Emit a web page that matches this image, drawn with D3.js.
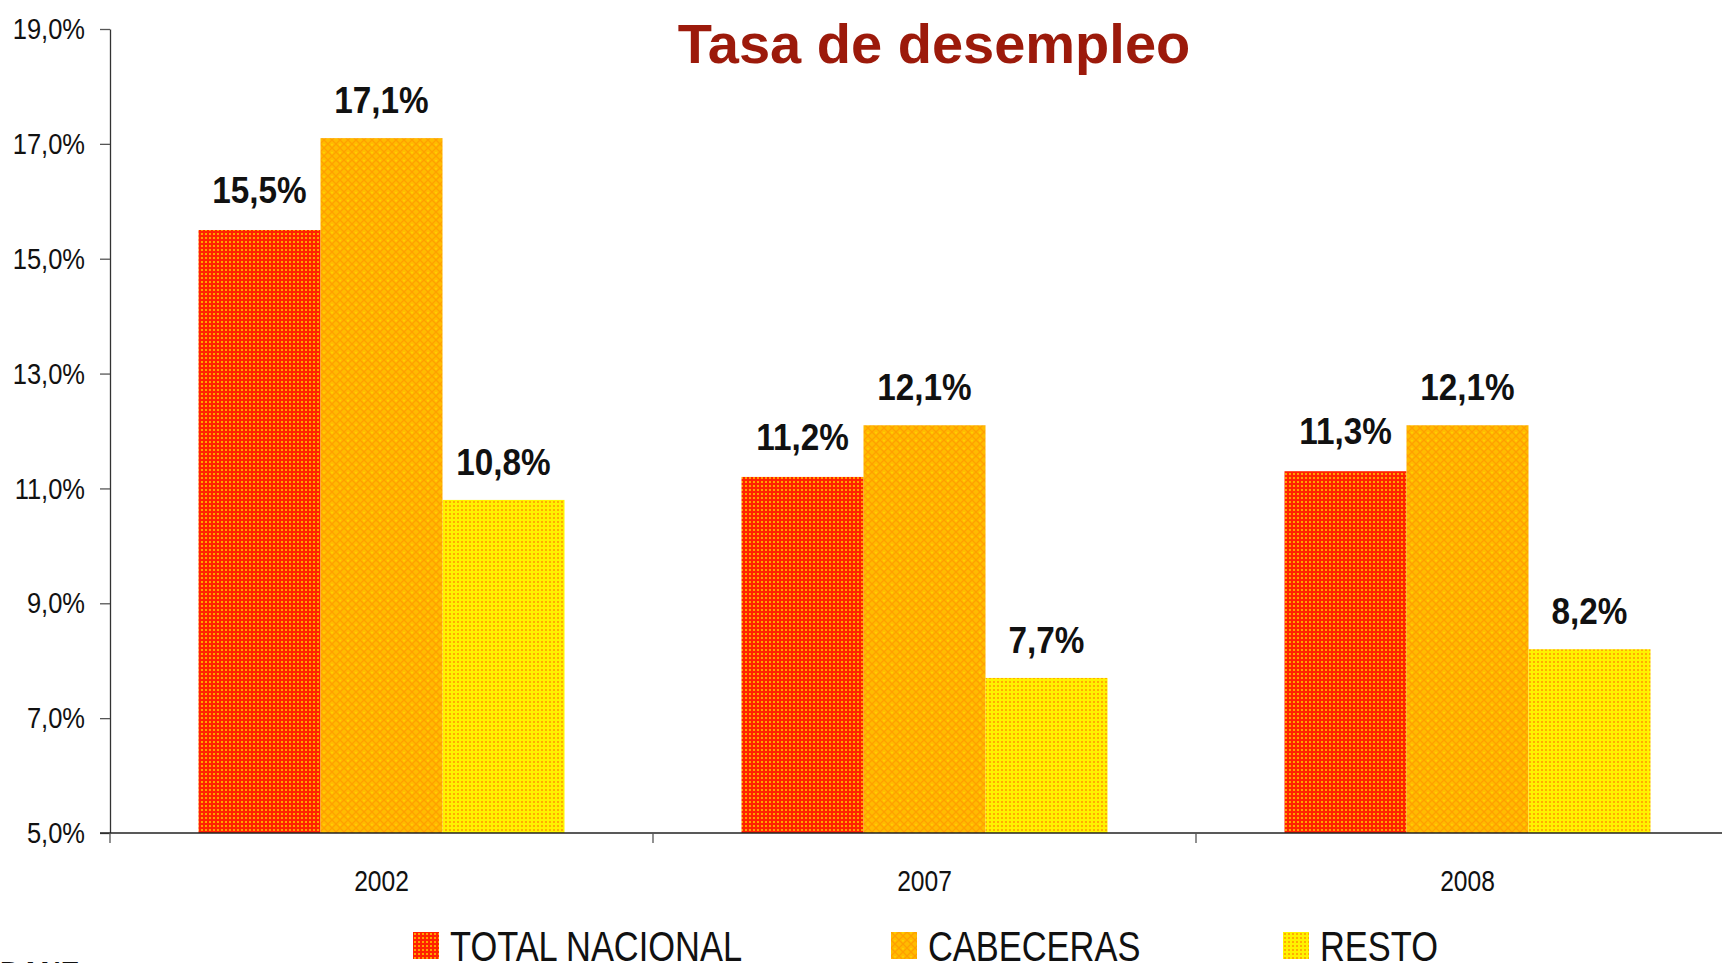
<!DOCTYPE html>
<html>
<head>
<meta charset="utf-8">
<script src="https://cdn.jsdelivr.net/npm/d3@7"></script>
<style>
  body { margin: 0; background: #fff; overflow: hidden; }
  svg { display: block; }
  .narrow { font-family: "Liberation Sans", Arial, sans-serif; }
</style>
</head>
<body>
<svg width="1722" height="963"></svg>
<script>
/* data */
var years = ["2002", "2007", "2008"];
var series = ["TOTAL NACIONAL", "CABECERAS", "RESTO"];
var totalNacional = [15.5, 11.2, 11.3];
var cabeceras = [17.1, 12.1, 12.1];
var resto = [10.8, 7.7, 8.2];
var yTicks = [5, 7, 9, 11, 13, 15, 17, 19];

var values = [totalNacional, cabeceras, resto];

/* no narrow font installed: squeeze Liberation Sans horizontally instead */
var squeeze = 0.82,
    squeezeTick = 0.85,
    squeezeLabel = 0.9;

var svg = d3.select("svg"),
    margin = {top: 29, left: 110},
    plotBottom = 833;

/* y scale: 5% at the x axis, 19% at the top */
var y = d3.scaleLinear().domain([5, 19]).range([plotBottom, margin.top]);

/* the last band runs past the right edge of the window, as in the picture */
var x0 = d3.scaleBand().domain(years).range([margin.left, margin.left + 3 * 543]).padding(0);
var groupPad = x0.bandwidth() * 0.163;
var x1 = d3.scaleBand().domain(series).range([groupPad, x0.bandwidth() - groupPad]).padding(0);

function pct(d) { return d.toFixed(1).replace(".", ",") + "%"; }

/* fill patterns for the three series */
var defs = svg.append("defs");

var pRed = defs.append("pattern").attr("id", "pRed")
    .attr("patternUnits", "userSpaceOnUse").attr("width", 4).attr("height", 4);
pRed.append("rect").attr("width", 4).attr("height", 4).attr("fill", "#ff2200");
pRed.append("rect").attr("x", 1).attr("y", 1).attr("width", 2).attr("height", 2).attr("fill", "#ffa200");

var pOrange = defs.append("pattern").attr("id", "pOrange")
    .attr("patternUnits", "userSpaceOnUse").attr("width", 8).attr("height", 8);
pOrange.append("rect").attr("width", 8).attr("height", 8).attr("fill", "#ffbb00");
pOrange.append("path").attr("d", "M0,0L8,8M8,0L0,8").attr("stroke", "#ffa000").attr("stroke-width", 1.3);
pOrange.append("rect").attr("x", 3).attr("y", 0).attr("width", 2).attr("height", 1.5).attr("fill", "#ffd000");

var pYellow = defs.append("pattern").attr("id", "pYellow")
    .attr("patternUnits", "userSpaceOnUse").attr("width", 4).attr("height", 4);
pYellow.append("rect").attr("width", 4).attr("height", 4).attr("fill", "#fff200");
pYellow.append("rect").attr("x", 1).attr("y", 1).attr("width", 2).attr("height", 2).attr("fill", "#ffae00");

var fills = ["url(#pRed)", "url(#pOrange)", "url(#pYellow)"];

/* bars and value labels */
var rows = [];
years.forEach(function(yr, i) {
  series.forEach(function(s, j) {
    rows.push({year: yr, serie: s, j: j, value: values[j][i]});
  });
});

var bars = svg.append("g");
bars.selectAll("rect")
  .data(rows)
  .enter().append("rect")
    .attr("x", function(d) { return x0(d.year) + x1(d.serie); })
    .attr("y", function(d) { return y(d.value); })
    .attr("width", x1.bandwidth())
    .attr("height", function(d) { return plotBottom - y(d.value); })
    .attr("fill", function(d) { return fills[d.j]; });

bars.selectAll("text")
  .data(rows)
  .enter().append("text")
    .attr("class", "narrow")
    .attr("transform", function(d) {
      var cx = x0(d.year) + x1(d.serie) + x1.bandwidth() / 2;
      var gap = d.j === 0 ? 27 : 25;
      return "translate(" + cx + "," + (y(d.value) - gap) + ") scale(" + squeezeLabel + ",1)";
    })
    .attr("text-anchor", "middle")
    .attr("font-size", 37)
    .attr("font-weight", "bold")
    .attr("fill", "#111")
    .text(function(d) { return pct(d.value); });

/* y axis */
var yAxis = svg.append("g")
    .attr("transform", "translate(" + margin.left + ",0)")
    .call(d3.axisLeft(y).tickValues(yTicks).tickSize(10).tickSizeOuter(0).tickFormat(pct));
yAxis.select(".domain").attr("stroke", "#333").attr("stroke-width", 1.3);
yAxis.selectAll(".tick line").attr("stroke", "#555").attr("stroke-width", 1.3);
yAxis.selectAll(".tick text")
    .attr("class", "narrow")
    .attr("font-size", 30)
    .attr("fill", "#111")
    .attr("x", -25 / squeezeTick)
    .attr("transform", "scale(" + squeezeTick + ",1)");

/* x axis: labels at band centers, ticks at band boundaries */
var xAxis = svg.append("g")
    .attr("transform", "translate(0," + plotBottom + ")")
    .call(d3.axisBottom(x0).tickSize(0).tickPadding(37));
xAxis.select(".domain").attr("stroke", "#222").attr("stroke-width", 1.5)
    .attr("d", "M" + (margin.left - 10) + ",0H" + x0.range()[1]);
xAxis.selectAll(".tick text")
    .attr("class", "narrow")
    .attr("font-size", 30)
    .attr("fill", "#111")
    .attr("transform", "scale(" + squeeze + ",1)");

xAxis.selectAll(".bound")
  .data(years)
  .enter().append("line")
    .attr("class", "bound")
    .attr("x1", function(d) { return x0(d) + x0.bandwidth(); })
    .attr("x2", function(d) { return x0(d) + x0.bandwidth(); })
    .attr("y1", 0).attr("y2", 10)
    .attr("stroke", "#555").attr("stroke-width", 1.3);
xAxis.append("line")
    .attr("x1", margin.left).attr("x2", margin.left)
    .attr("y1", 0).attr("y2", 10)
    .attr("stroke", "#555").attr("stroke-width", 1.3);

/* title */
svg.append("text")
    .attr("x", 934)
    .attr("y", 63)
    .attr("text-anchor", "middle")
    .attr("font-family", "Liberation Sans, Arial, sans-serif")
    .attr("font-weight", "bold")
    .attr("font-size", 56)
    .attr("fill", "#9c1a0b")
    .text("Tasa de desempleo");

/* legend */
var legendX = [413, 891, 1283];
var legend = svg.append("g").selectAll("g")
  .data(series)
  .enter().append("g")
    .attr("transform", function(d, i) { return "translate(" + legendX[i] + ",932)"; });
legend.append("rect")
    .attr("width", 26).attr("height", 27)
    .attr("fill", function(d, i) { return fills[i]; });
legend.append("text")
    .attr("class", "narrow")
    .attr("transform", "translate(37,29) scale(" + squeeze + ",1)")
    .attr("font-size", 42)
    .attr("fill", "#111")
    .text(function(d) { return d; });

/* source, cut by the bottom edge as in the picture */
svg.append("text")
    .attr("x", 0)
    .attr("y", 981)
    .attr("font-family", "Liberation Sans, Arial, sans-serif")
    .attr("font-weight", "bold")
    .attr("font-size", 28)
    .attr("fill", "#111")
    .text("DANE");
</script>
</body>
</html>
